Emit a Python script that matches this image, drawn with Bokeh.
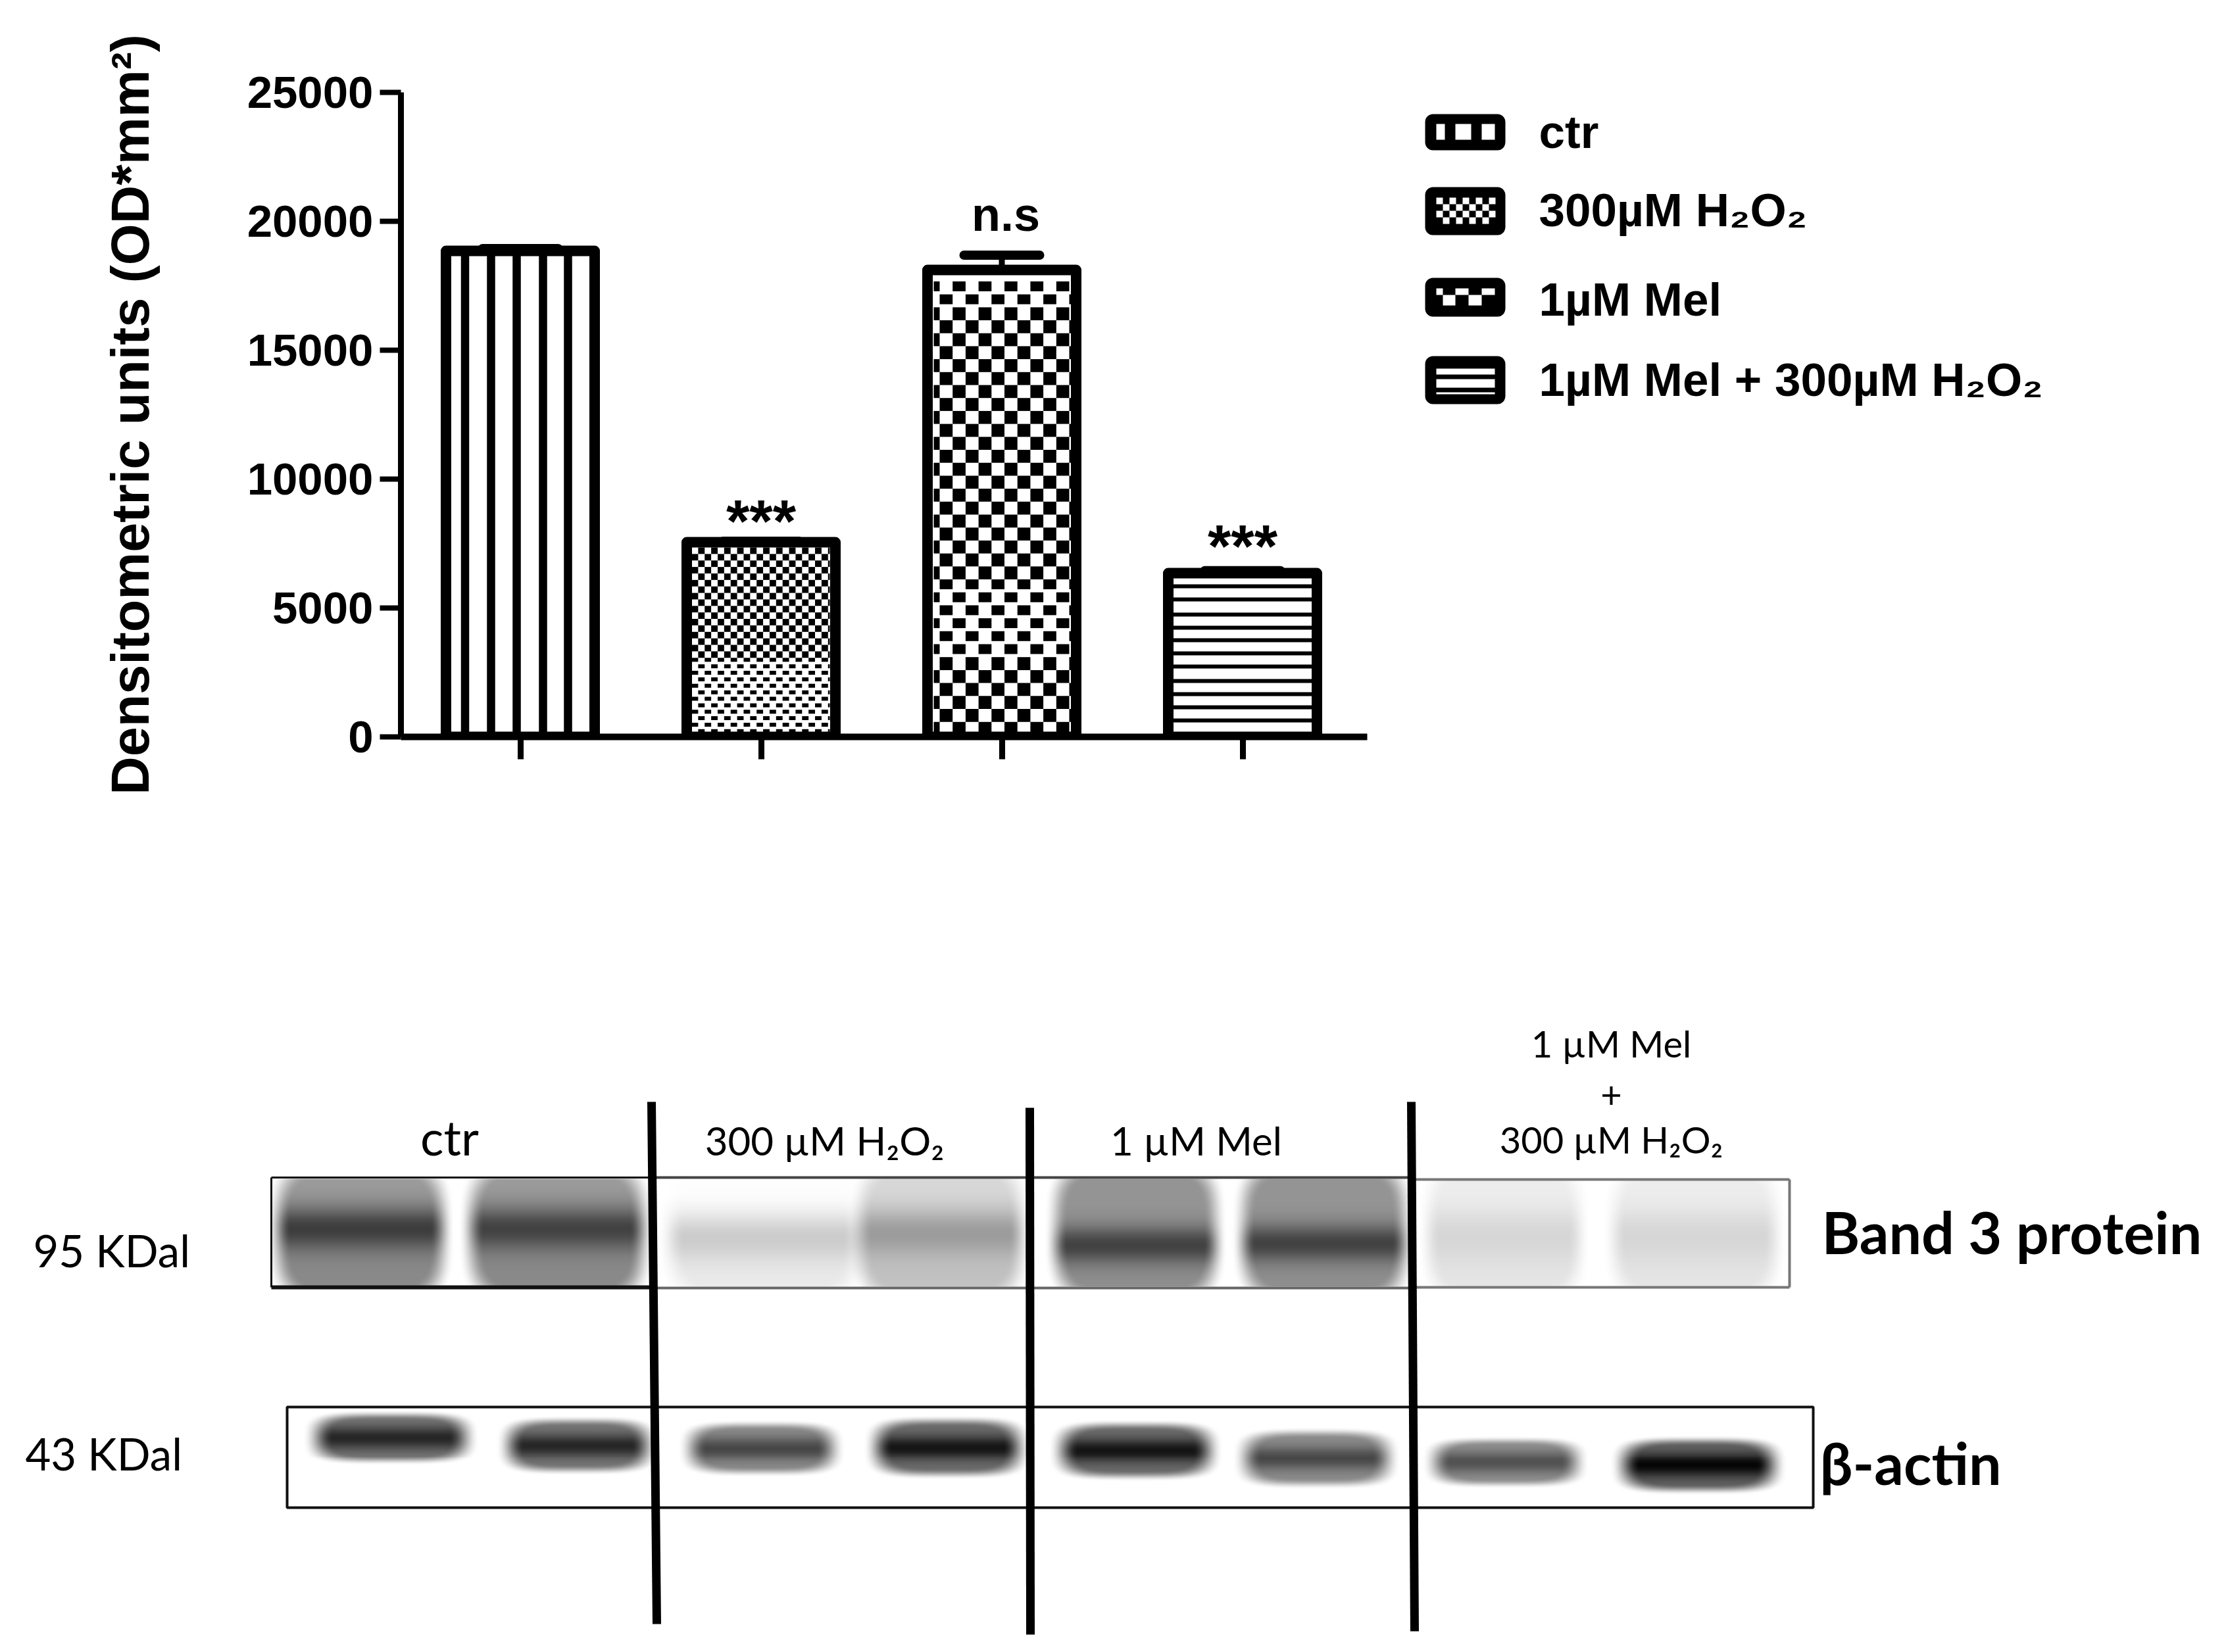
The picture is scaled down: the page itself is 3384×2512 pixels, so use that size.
import numpy as np
from bokeh.plotting import figure
from bokeh.layouts import column
from bokeh.models import Range1d, FixedTicker, LinearAxis
from bokeh.core.properties import value
from bokeh.embed import file_html
from bokeh.resources import INLINE

categories = ["ctr", "300µM H₂O₂", "1µM Mel", "1µM Mel + 300µM H₂O₂"]
means = [18850, 7550, 18110, 6350]
errors = [90, 40, 575, 100]
marks = ["", "***", "n.s", "***"]
y_ticks = [0, 5000, 10000, 15000, 20000, 25000]
y_title = "Densitometric units (OD*mm²)"

blot_names = ["Band 3 protein", "β-actin"]
blot_sizes = ["95 KDal", "43 KDal"]
lane_titles = ["ctr", "300 µM H₂O₂", "1 µM Mel"]
combo_title = ["1 µM Mel", "+", "300 µM H₂O₂"]

# band 3 lanes: left, right, lane darkness, band centre, band spread, band darkness, lightening towards the top
band3_lanes = [
    (423, 672, .46, 1868, 32, .30, .15), (716, 976, .46, 1868, 32, .28, .15),
    (1020, 1301, .08, 1882, 36, .12, .90), (1307, 1551, .24, 1875, 34, .15, .35),
    (1605, 1847, .44, 1893, 28, .30, .05), (1890, 2134, .44, 1890, 28, .30, .05),
    (2172, 2400, .10, 1880, 40, .06, .30), (2454, 2698, .10, 1880, 40, .06, .30),
]
# actin lanes: left, right, top, bottom, darkness
actin_lanes = [
    (483, 705, 2151, 2221, .85), (775, 981, 2160, 2236, .85),
    (1052, 1263, 2166, 2239, .72), (1334, 1546, 2160, 2242, .92),
    (1616, 1836, 2166, 2245, .92), (1895, 2107, 2178, 2257, .72),
    (2183, 2394, 2190, 2257, .68), (2470, 2693, 2190, 2266, .98),
]

W, H1, H2 = 3368, 1220, 1276
X = lambda px: 1 + (np.asarray(px, float) - 790.5) / 366.0
V = lambda py: (1120 - np.asarray(py, float)) / 0.0392

p = figure(width=W, height=H1, output_backend="svg", toolbar_location=None,
           x_range=Range1d(float(X(609)), float(X(3368))), y_range=Range1d(0, 25000),
           x_axis_type=None, y_axis_type=None,
           min_border_left=609, min_border_right=0, min_border_top=140, min_border_bottom=H1 - 1120,
           outline_line_color=None, background_fill_color="white", border_fill_color="white",
           frame_align=False)
p.grid.visible = False

ya = LinearAxis(ticker=FixedTicker(ticks=y_ticks), axis_label=y_title)
ya.axis_line_width = 9
ya.major_tick_line_width = 8
ya.major_tick_in = 0
ya.major_tick_out = 32
ya.minor_tick_line_color = None
ya.major_label_standoff = 10
ya.major_label_text_font = "Liberation Sans"
ya.major_label_text_font_style = "bold"
ya.major_label_text_font_size = "69px"
ya.major_label_text_color = "black"
ya.axis_label_text_font = "Liberation Sans"
ya.axis_label_text_font_style = "bold"
ya.axis_label_text_font_size = "81px"
ya.axis_label_text_color = "black"
ya.axis_label_standoff = 130
ya.formatter.use_scientific = False
p.add_layout(ya, "left")

xa = LinearAxis(ticker=FixedTicker(ticks=[1, 2, 3, 4]))
xa.bounds = (float(X(609)), float(X(2078)))
xa.axis_line_width = 10
xa.major_tick_line_width = 9
xa.major_tick_in = 0
xa.major_tick_out = 34
xa.minor_tick_line_color = None
xa.major_label_standoff = 0
xa.major_label_text_font_size = "1px"
xa.major_label_text_color = None
p.add_layout(xa, "below")

positions = [1, 2, 3, 4]
bar_w = 226 / 366.0


def checker(x0, x1, y0, y1, ox, oy, pitch, height, black_odd=True):
    L, R, T, B = [], [], [], []
    rows = int((y1 - oy) / pitch) + 1
    cols = int((x1 - ox) / pitch) + 2
    for r in range(rows):
        for c in range(-2, cols):
            if ((r + c) % 2 == 1) != black_odd:
                continue
            l, rr = max(ox + c * pitch, x0), min(ox + (c + 1) * pitch, x1)
            t = oy + r * pitch
            b = min(t + height(r, t), y1)
            t = max(t, y0)
            if rr > l and b > t:
                L.append(l); R.append(rr); T.append(t); B.append(b)
    return L, R, T, B


def draw_cells(cells):
    L, R, T, B = cells
    p.quad(left=X(L).tolist(), right=X(R).tolist(), top=V(T).tolist(), bottom=V(B).tolist(),
           fill_color="black", line_color=None)


# bar 1: vertical stripes
stripe_off = [-84, -44.5, -5.5, 34.5, 72.5]
p.segment(x0=[positions[0] + o / 366 for o in stripe_off], x1=[positions[0] + o / 366 for o in stripe_off],
          y0=[0] * 5, y1=[means[0]] * 5, line_color="black", line_width=12.5, line_cap="butt")

# bar 2: fine checks, dashes near the base
draw_cells(checker(1051, 1261, 832, 1118, 1051, 832, 9.87, lambda r, t: 9.87 if r < 17 else 6))

# bar 3: coarse checks
draw_cells(checker(1419, 1628, 419, 1118, 1428, 427.4, 19.7,
                   lambda r, t: 15 if (r < 2 or 877 < t < 995) else 19.7))

# bar 4: horizontal lines
h_py = [891, 911, 934, 954, 973, 993, 1013, 1035, 1055, 1075, 1095]
p.segment(x0=[positions[3] - bar_w / 2] * len(h_py), x1=[positions[3] + bar_w / 2] * len(h_py),
          y0=V(h_py).tolist(), y1=V(h_py).tolist(), line_color="black", line_width=6, line_cap="butt")

p.vbar(x=positions, top=means, bottom=0, width=bar_w, fill_color=None, line_color="black",
       line_width=16, line_join="round")

upper = [m + e for m, e in zip(means, errors)]
p.segment(x0=positions, x1=positions, y0=means, y1=upper, line_color="black", line_width=9)
cap = 115 / 366.0
p.segment(x0=[x - cap / 2 for x in positions], x1=[x + cap / 2 for x in positions], y0=upper, y1=upper,
          line_color="black", line_width=14, line_cap="round")

# significance marks: middles of the glyph boxes
p.text(x=[positions[1], positions[3]], y=V([792, 830]).tolist(), text=[marks[1], marks[3]],
       text_font=value("Liberation Sans"), text_font_style="bold", text_font_size="91px",
       text_align="center", text_baseline="middle", text_color="black")
p.text(x=[positions[2] + 6 / 366], y=V([325]).tolist(), text=[marks[2]], text_font=value("Liberation Sans"),
       text_font_style="bold", text_font_size="72px", text_align="center", text_baseline="middle",
       text_color="black")

# legend
sw_top = [173, 284, 422, 541]
sw_bot = [228, 357, 481, 614]
p.quad(left=[float(X(2166))] * 4, right=[float(X(2288))] * 4, top=V(sw_top).tolist(), bottom=V(sw_bot).tolist(),
       fill_color="black", line_color=None, border_radius=12)
wl, wr, wt, wb = [2183, 2212, 2252], [2196, 2236, 2272], [188] * 3, [212] * 3
wl += [2183, 2212, 2252, 2193, 2232]; wr += [2193, 2232, 2272, 2212, 2252]
wt += [438, 438, 438, 448, 448]; wb += [448, 448, 448, 464, 464]
wl += [2183] * 3; wr += [2272] * 3; wt += [560, 576, 596]; wb += [569, 589, 599]
for r in range(4):
    for c in range(9):
        if (r + c) % 2 == 0:
            wl.append(2183 + c * 10); wr.append(2193 + c * 10); wt.append(300 + r * 10); wb.append(310 + r * 10)
p.quad(left=X(wl).tolist(), right=X(wr).tolist(), top=V(wt).tolist(), bottom=V(wb).tolist(),
       fill_color="white", line_color=None)
p.text(x=[float(X(2339))] * 4, y=V([200, 319, 455, 577]).tolist(), text=categories,
       text_font=value("Liberation Sans"), text_font_style="bold", text_font_size="71px",
       text_align="left", text_baseline="middle", text_color="black")

# ---------- blot panel: coordinates on this panel are page pixels
top_ref = H1
Y = lambda py: 2512 - np.asarray(py, float)
q = figure(width=W, height=H2, output_backend="svg", toolbar_location=None,
           x_range=Range1d(0, W), y_range=Range1d(float(Y(top_ref + H2)), float(Y(top_ref))),
           x_axis_type=None, y_axis_type=None, min_border=0, outline_line_color=None,
           background_fill_color="white", border_fill_color="white", frame_align=False)
q.grid.visible = False


def smooth(t):
    t = np.clip(t, 0, 1)
    return t * t * (3 - 2 * t)


def lane_mask(gx, gy, l, r, t, b, soft):
    cx, cy, hw, hh = (l + r) / 2, (t + b) / 2, (r - l) / 2, (b - t) / 2
    rad = ((np.abs(gx - cx) / hw) ** 4 + (np.abs(gy - cy) / hh) ** 4) ** .25
    return smooth((1.0 + soft / 2 - rad) / soft)


def blot(x0, x1, y0, y1, fn):
    xs = np.arange(x0, x1, 2.0) + 1
    ys = np.arange(y0, y1, 2.0) + 1
    gx, gy = np.meshgrid(xs, ys)
    d = np.clip(fn(gx, gy), 0, 1)
    g = np.round(255 * (1 - d)).astype(np.uint32)
    rgba = (255 << 24) | (g << 16) | (g << 8) | g
    q.image_rgba(image=[rgba[::-1].copy()], x=x0, y=float(Y(y1)), dw=x1 - x0, dh=y1 - y0)


def band3(gx, gy):
    d = np.zeros_like(gx)
    for l, r, bg, yc, sig, peak, fade in band3_lanes:
        m = lane_mask(gx, gy, l, r, 1770, 1975, .3)
        up = 1 - fade * smooth((yc - gy) / 70)
        d += m * (bg * up + peak * np.exp(-((gy - yc) / sig) ** 2))
    return d


def actin(gx, gy):
    d = np.zeros_like(gx)
    for l, r, t, b, peak in actin_lanes:
        m = lane_mask(gx, gy, l, r, t, b, .42)
        d += peak * m * (.62 + .38 * np.exp(-((gy - (t + b) / 2) / 18) ** 2))
    return d


blot(414, 2720, 1792, 1956, band3)
blot(438, 2754, 2141, 2290, actin)

# blot frames
q.segment(x0=[412, 412, 412], x1=[990, 990, 412], y0=Y([1790, 1957, 1790]).tolist(), y1=Y([1790, 1957, 1957]).tolist(),
          line_color="#111111", line_width=[3, 6, 3])
q.segment(x0=[990, 990, 2145, 2145, 2720], x1=[2145, 2145, 2720, 2720, 2720],
          y0=Y([1790, 1958, 1793, 1957, 1793]).tolist(), y1=Y([1790, 1958, 1793, 1957, 1957]).tolist(),
          line_color=["#444444", "#666666", "#777777", "#777777", "#777777"], line_width=4)
q.quad(left=[436], right=[2756], top=[float(Y(2139))], bottom=[float(Y(2292))], fill_color=None,
       line_color="#111111", line_width=4)

# lane dividers
q.segment(x0=[990, 1565, 2145], x1=[998, 1566, 2150], y0=Y([1675, 1684, 1675]).tolist(),
          y1=Y([2469, 2485, 2480]).tolist(), line_color="black", line_width=13)

# labels (vertical middles)
FONT = value("Lato")
q.text(x=[683], y=Y([1728]).tolist(), text=lane_titles[:1], text_font=FONT, text_font_size="74px",
       text_align="center", text_baseline="middle", text_color="black")
q.text(x=[1253, 1818], y=Y([1733, 1733]).tolist(), text=lane_titles[1:], text_font=FONT,
       text_font_size="60px", text_align="center", text_baseline="middle", text_color="black")
q.text(x=[2449, 2449, 2449], y=Y([1586, 1664, 1732]).tolist(), text=combo_title, text_font=FONT,
       text_font_size="56px", text_align="center", text_baseline="middle", text_color="black")
q.text(x=[50, 38], y=Y([1900, 2209]).tolist(), text=blot_sizes, text_font=FONT, text_font_size="67px",
       text_align="left", text_baseline="middle", text_color="black")
q.text(x=[2769, 2766], y=Y([1872, 2223]).tolist(), text=blot_names, text_font=FONT, text_font_style="bold",
       text_font_size="88px", text_align="left", text_baseline="middle", text_color="black")

layout = column(p, q, spacing=0)
open("out.html", "w").write(file_html(layout, INLINE))
